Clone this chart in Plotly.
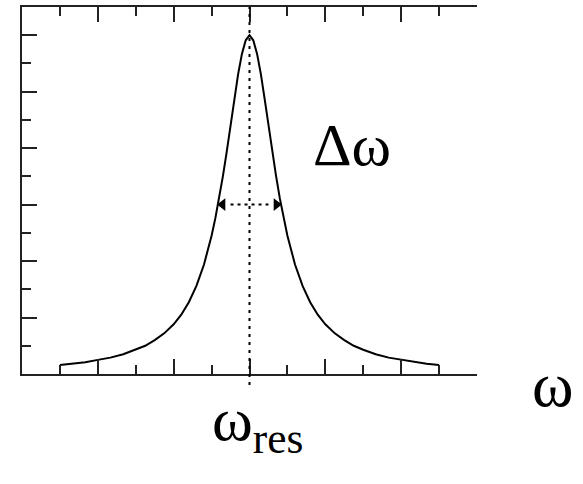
import plotly.graph_objects as go

# Resonance curve: response amplitude versus driving frequency
omega = [1.0, 1.33, 1.67, 2.0, 2.33, 2.67, 3.0, 3.25, 3.5, 3.75, 4.0, 4.2, 4.4, 4.6,
         4.8, 5.0, 5.1, 5.2, 5.3, 5.4, 5.5, 5.6, 5.7, 5.8, 5.9, 6.0, 6.1, 6.2, 6.3,
         6.4, 6.5, 6.6, 6.7, 6.8, 6.9, 7.0, 7.2, 7.4, 7.6, 7.8, 8.0, 8.25, 8.5,
         8.75, 9.0, 9.33, 9.67, 10.0, 10.33, 10.67, 11.0]
amplitude = [0.16, 0.18, 0.21, 0.25, 0.29, 0.35, 0.43, 0.50, 0.60, 0.72, 0.88, 1.05,
             1.27, 1.56, 1.94, 2.45, 2.76, 3.11, 3.51, 3.94, 4.40, 4.87, 5.31, 5.67,
             5.91, 6.00, 5.91, 5.67, 5.31, 4.87, 4.40, 3.94, 3.51, 3.11, 2.76, 2.45,
             1.94, 1.56, 1.27, 1.05, 0.88, 0.72, 0.60, 0.50, 0.43, 0.35, 0.29, 0.25,
             0.21, 0.18, 0.16]

omega_res = 6.0                 # resonance frequency
half_max = 3.0                  # half of the peak amplitude
arrow_x = [5.29, 6.71]          # arrowheads at the half-maximum crossings

SERIF = "Liberation Serif"

fig = go.Figure()
fig.add_trace(go.Scatter(x=omega, y=amplitude, mode="lines",
                         line=dict(color="black", width=2), showlegend=False,
                         hoverinfo="skip"))

# dotted guide at resonance
fig.add_shape(type="line", xref="x", yref="paper", x0=omega_res, x1=omega_res,
              y0=-0.03, y1=1.0, line=dict(color="black", width=2, dash="3px,5px"))
# dotted width marker at half maximum
fig.add_shape(type="line", xref="x", yref="y", x0=5.5, x1=6.5, y0=half_max,
              y1=half_max, line=dict(color="black", width=2, dash="3px,4px"))
fig.add_trace(go.Scatter(x=arrow_x, y=[half_max, half_max], mode="markers",
                         marker=dict(symbol=["triangle-left", "triangle-right"],
                                     size=11, color="black"),
                         showlegend=False, hoverinfo="skip"))

fig.add_annotation(x=0.635, y=0.623, xref="paper", yref="paper", text="Δω",
                   showarrow=False, xanchor="left", yanchor="middle",
                   font=dict(family=SERIF, size=60, color="black"))
fig.add_annotation(x=1.167, y=-0.03, xref="paper", yref="paper", text="ω",
                   showarrow=False, xanchor="center", yanchor="middle",
                   font=dict(family=SERIF, size=63, color="black"))
fig.add_annotation(x=0.413, y=-0.135, xref="paper", yref="paper",
                   text="ω<sub>res</sub>", showarrow=False, xanchor="left",
                   yanchor="middle", font=dict(family=SERIF, size=62, color="black"))

fig.update_xaxes(range=[0, 12], dtick=2, tick0=0, ticks="inside", ticklen=15,
                 tickwidth=2, tickcolor="#222", showticklabels=False,
                 showline=True, linecolor="#222", linewidth=2, mirror="ticks",
                 showgrid=False, zeroline=False,
                 minor=dict(dtick=1, ticks="inside", ticklen=9, tickwidth=2,
                            tickcolor="#222", showgrid=False))
fig.update_yaxes(range=[0, 6.5], dtick=1, tick0=0, ticks="inside", ticklen=15,
                 tickwidth=2, tickcolor="#222", showticklabels=False,
                 showline=True, linecolor="#222", linewidth=2, mirror=False,
                 showgrid=False, zeroline=False,
                 minor=dict(dtick=0.5, ticks="inside", ticklen=9, tickwidth=2,
                            tickcolor="#222", showgrid=False))

fig.update_layout(width=583, height=484, margin=dict(l=22, r=106, t=5, b=110),
                  paper_bgcolor="white", plot_bgcolor="white", showlegend=False)

fig.write_html("out.html")
